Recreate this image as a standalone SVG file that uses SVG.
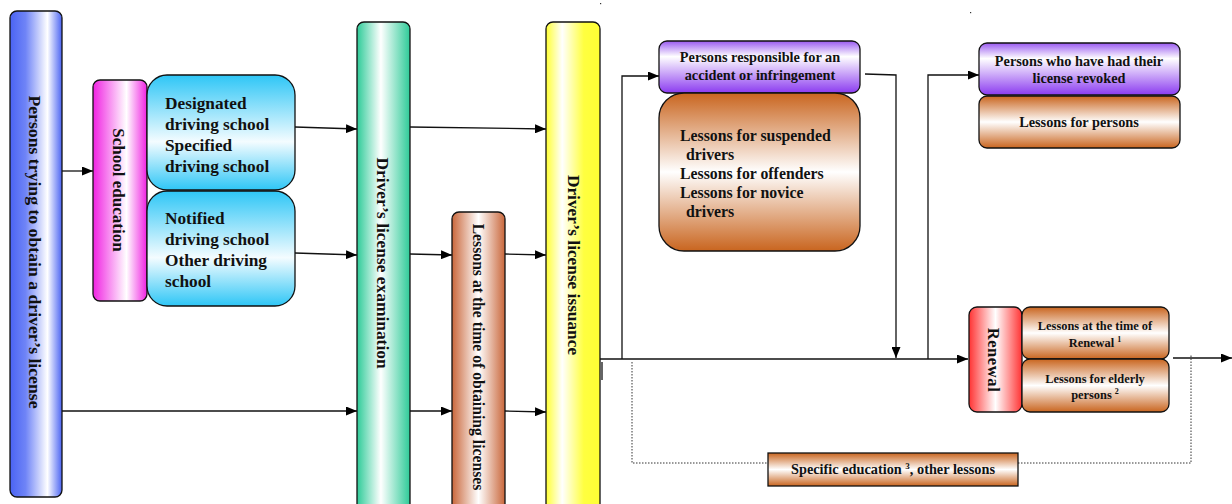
<svg xmlns="http://www.w3.org/2000/svg" width="1232" height="504" viewBox="0 0 1232 504">
<defs>
<linearGradient id="gBlue" x1="0" y1="0" x2="1" y2="0"><stop offset="0" stop-color="#4a63f3"/><stop offset="0.3" stop-color="#6f84f7"/><stop offset="0.72" stop-color="#ffffff"/><stop offset="1" stop-color="#4a63f3"/></linearGradient>
<linearGradient id="gMag" x1="0" y1="0" x2="1" y2="0"><stop offset="0" stop-color="#f022e2"/><stop offset="0.62" stop-color="#ffffff"/><stop offset="1" stop-color="#f022e2"/></linearGradient>
<linearGradient id="gCyan" x1="0" y1="0" x2="0" y2="1"><stop offset="0" stop-color="#2ec6f6"/><stop offset="0.58" stop-color="#f4fcff"/><stop offset="1" stop-color="#2ec6f6"/></linearGradient>
<linearGradient id="gGreen" x1="0" y1="0" x2="1" y2="0"><stop offset="0" stop-color="#2ecb98"/><stop offset="0.45" stop-color="#ffffff"/><stop offset="1" stop-color="#2ecb98"/></linearGradient>
<linearGradient id="gBrownH" x1="0" y1="0" x2="1" y2="0"><stop offset="0" stop-color="#c9673b"/><stop offset="0.5" stop-color="#ffffff"/><stop offset="1" stop-color="#c9673b"/></linearGradient>
<linearGradient id="gYellow" x1="0" y1="0" x2="1" y2="0"><stop offset="0" stop-color="#ffff33"/><stop offset="0.3" stop-color="#ffffff"/><stop offset="0.7" stop-color="#ffff40"/><stop offset="1" stop-color="#ffff33"/></linearGradient>
<linearGradient id="gPurple" x1="0" y1="0" x2="0" y2="1"><stop offset="0" stop-color="#9a5af0"/><stop offset="0.3" stop-color="#ffffff"/><stop offset="1" stop-color="#8b3bf0"/></linearGradient>
<linearGradient id="gBrownV" x1="0" y1="0" x2="0" y2="1"><stop offset="0" stop-color="#c9651f"/><stop offset="0.5" stop-color="#ffffff"/><stop offset="1" stop-color="#c9651f"/></linearGradient>
<linearGradient id="gRed" x1="0" y1="0" x2="1" y2="0"><stop offset="0" stop-color="#ff3333"/><stop offset="0.5" stop-color="#ffffff"/><stop offset="1" stop-color="#ff3333"/></linearGradient>
<marker id="arr" markerWidth="11" markerHeight="9" refX="11" refY="4.5" orient="auto" markerUnits="userSpaceOnUse"><path d="M0,0 L11,4.5 L0,9 z" fill="#000"/></marker>
<style>
.box{stroke:#111;stroke-width:1.3}
.t{font-family:'Liberation Serif','DejaVu Serif',serif;font-weight:700;fill:#111}
.c{stroke:#111;stroke-width:1.3;fill:none}
.d{stroke:#333;stroke-width:1;fill:none;stroke-dasharray:1.5 1.5}
</style>
</defs>

<g id="connectors">
<path class="c" d="M62,171 L93,171" marker-end="url(#arr)"/>
<path class="c" d="M295,127 L357,129" marker-end="url(#arr)"/>
<path class="c" d="M295,253 L357,255" marker-end="url(#arr)"/>
<path class="c" d="M62,411 L357,411" marker-end="url(#arr)"/>
<path class="c" d="M410,127 L546,129" marker-end="url(#arr)"/>
<path class="c" d="M410,254 L452,255" marker-end="url(#arr)"/>
<path class="c" d="M410,411 L452,411" marker-end="url(#arr)"/>
<path class="c" d="M505,254 L546,255" marker-end="url(#arr)"/>
<path class="c" d="M505,411 L546,412" marker-end="url(#arr)"/>
<path class="c" d="M600,359 L968,359" marker-end="url(#arr)"/>
<path class="c" d="M622,359 L622,76 L659,76" marker-end="url(#arr)"/>
<path class="c" d="M865,74 L896,75 L896,358" marker-end="url(#arr)"/>
<path class="c" d="M928,359 L928,75 L979,75" marker-end="url(#arr)"/>
<path class="c" d="M1173,358 L1232,358" marker-end="url(#arr)"/>
<path class="c" d="M602,362 L602,380"/>
<path class="d" d="M632,362 L632,463 L768,463"/>
<path class="d" d="M1018,463 L1191,463 L1191,355"/>
<rect x="600" y="3" width="1.2" height="1.2" fill="#333"/>
<rect x="970" y="12" width="1.2" height="1.2" fill="#333"/>
</g>

<g id="n-persons-trying">
<rect class="box" x="10" y="11" width="52" height="486" rx="7" fill="url(#gBlue)"/>
<text class="t" font-size="17.7" text-anchor="middle" dominant-baseline="central" transform="translate(35,252) rotate(90)">Persons trying to obtain a driver’s license</text>
</g>

<g id="n-school-education">
<rect class="box" x="93" y="80" width="54" height="221" rx="7" fill="url(#gMag)"/>
<text class="t" font-size="17" text-anchor="middle" dominant-baseline="central" transform="translate(118,190) rotate(90)">School education</text>
</g>

<g id="n-designated">
<rect class="box" x="147" y="75" width="148" height="115" rx="20" fill="url(#gCyan)"/>
<text class="t" font-size="17.3" x="165" y="109">Designated</text>
<text class="t" font-size="17.3" x="165" y="130">driving school</text>
<text class="t" font-size="17.3" x="165" y="151">Specified</text>
<text class="t" font-size="17.3" x="165" y="172">driving school</text>
</g>

<g id="n-notified">
<rect class="box" x="147" y="191" width="148" height="115" rx="20" fill="url(#gCyan)"/>
<text class="t" font-size="17.3" x="165" y="224">Notified</text>
<text class="t" font-size="17.3" x="165" y="245">driving school</text>
<text class="t" font-size="17.3" x="165" y="266">Other driving</text>
<text class="t" font-size="17.3" x="165" y="287">school</text>
</g>

<g id="n-exam">
<rect class="box" x="357" y="22" width="53" height="490" rx="7" fill="url(#gGreen)"/>
<text class="t" font-size="17.4" text-anchor="middle" dominant-baseline="central" transform="translate(383,263) rotate(90)">Driver’s license examination</text>
</g>

<g id="n-lessons-obtaining">
<rect class="box" x="452" y="212" width="53" height="300" rx="7" fill="url(#gBrownH)"/>
<text class="t" font-size="15.7" text-anchor="middle" dominant-baseline="central" transform="translate(478,357) rotate(90)">Lessons at the time of obtaining licenses</text>
</g>

<g id="n-issuance">
<rect class="box" x="546" y="22" width="54" height="490" rx="7" fill="url(#gYellow)"/>
<text class="t" font-size="17.3" text-anchor="middle" dominant-baseline="central" transform="translate(573,265) rotate(90)">Driver’s license issuance</text>
</g>

<g id="n-persons-responsible">
<rect class="box" x="659" y="41" width="201" height="52" rx="8" fill="url(#gPurple)"/>
<text class="t" font-size="14.3" x="760" y="62" text-anchor="middle">Persons responsible for an</text>
<text class="t" font-size="14.3" x="760" y="80" text-anchor="middle">accident or infringement</text>
</g>

<g id="n-lessons-suspended">
<rect class="box" x="659" y="93" width="201" height="158" rx="25" fill="url(#gBrownV)"/>
<text class="t" font-size="15.8" x="680" y="141">Lessons for suspended</text>
<text class="t" font-size="15.8" x="686" y="160">drivers</text>
<text class="t" font-size="15.8" x="680" y="179">Lessons for offenders</text>
<text class="t" font-size="15.8" x="680" y="198">Lessons for novice</text>
<text class="t" font-size="15.8" x="686" y="217">drivers</text>
</g>

<g id="n-persons-revoked">
<rect class="box" x="979" y="43" width="201" height="52" rx="8" fill="url(#gPurple)"/>
<text class="t" font-size="14.3" x="1079" y="66" text-anchor="middle">Persons who have had their</text>
<text class="t" font-size="14.3" x="1079" y="83" text-anchor="middle">license revoked</text>
</g>

<g id="n-lessons-persons">
<rect class="box" x="979" y="96" width="201" height="52" rx="8" fill="url(#gBrownV)"/>
<text class="t" font-size="14.3" x="1079" y="127" text-anchor="middle">Lessons for persons</text>
</g>

<g id="n-renewal">
<rect class="box" x="969" y="307" width="53" height="105" rx="8" fill="url(#gRed)"/>
<text class="t" font-size="16.5" letter-spacing="0.6" text-anchor="middle" dominant-baseline="central" transform="translate(993,360) rotate(90)">Renewal</text>
</g>

<g id="n-lessons-renewal">
<rect class="box" x="1022" y="307" width="147" height="52" rx="8" fill="url(#gBrownV)"/>
<text class="t" font-size="12.4" x="1095" y="330" text-anchor="middle">Lessons at the time of</text>
<text class="t" font-size="12.4" x="1095" y="347" text-anchor="middle">Renewal <tspan font-size="8" dy="-5">1</tspan></text>
</g>

<g id="n-lessons-elderly">
<rect class="box" x="1022" y="359" width="147" height="53" rx="8" fill="url(#gBrownV)"/>
<text class="t" font-size="12.4" x="1095" y="383" text-anchor="middle">Lessons for elderly</text>
<text class="t" font-size="12.4" x="1095" y="399" text-anchor="middle">persons <tspan font-size="8" dy="-5">2</tspan></text>
</g>

<g id="n-specific-education">
<rect class="box" x="768" y="453" width="250" height="33" fill="url(#gBrownV)"/>
<text class="t" font-size="14.3" x="893" y="474" text-anchor="middle">Specific education <tspan font-size="9" dy="-5">3</tspan><tspan dy="5">, other lessons</tspan></text>
</g>
</svg>
